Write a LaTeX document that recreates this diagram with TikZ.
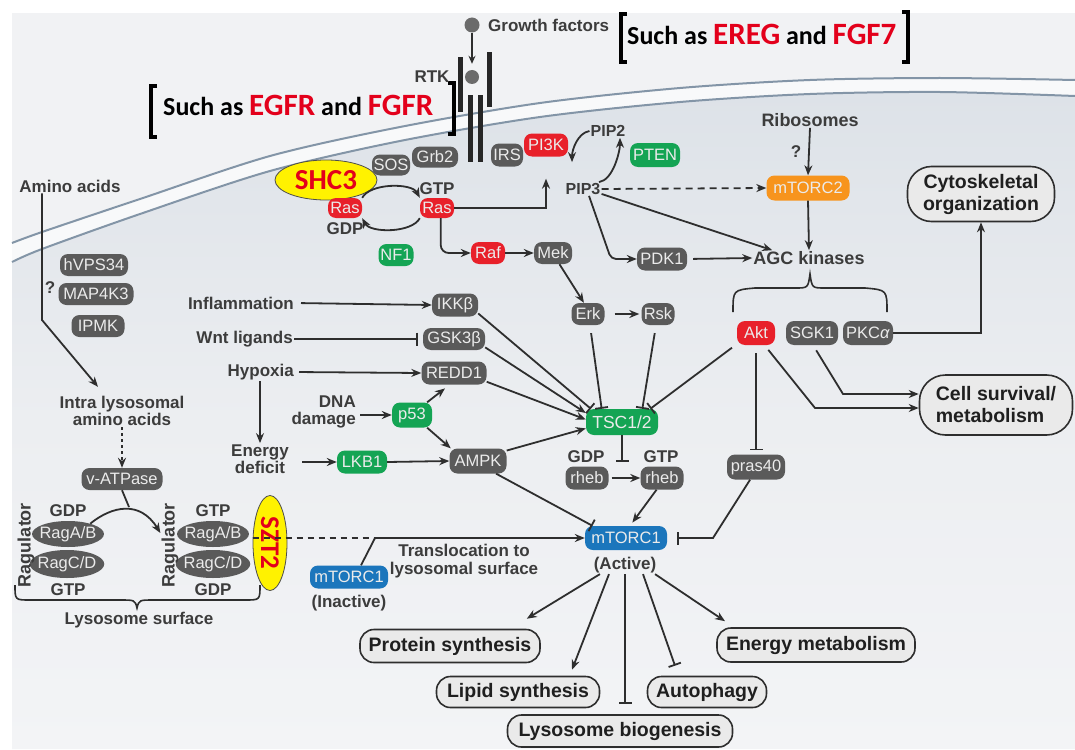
\documentclass[tikz,border=0pt]{standalone}
\usepackage{fontspec}
\setmainfont{Liberation Sans}
\newfontfamily\calib{Carlito}
\usetikzlibrary{arrows.meta,shapes.geometric,calc}
\definecolor{bgout}{HTML}{F1F2F4}
\definecolor{bgin}{HTML}{DDE2E8}
\definecolor{bgmid}{HTML}{ECEEF1}
\definecolor{bglow}{HTML}{F3F4F6}
\definecolor{bgband}{HTML}{F8F9FA}
\definecolor{memb}{HTML}{8395A7}
\definecolor{ndgray}{HTML}{5A5A5A}
\definecolor{nred}{HTML}{E8202A}
\definecolor{ngreen}{HTML}{14A454}
\definecolor{norange}{HTML}{F7941D}
\definecolor{nblue}{HTML}{1B76BC}
\definecolor{txt}{HTML}{3C3C3C}
\definecolor{boxfill}{HTML}{EAEAEA}
\definecolor{shcyel}{HTML}{FFF200}
\definecolor{anred}{HTML}{E3001B}
\definecolor{lnc}{HTML}{2E2E2E}
\begin{document}
\begin{tikzpicture}[x=1pt,y=-1pt,
  lbl/.style={text=txt, inner sep=1pt, font=\fontsize{17}{17.5}\selectfont\bfseries, align=center},
  molnode/.style={rounded corners=8pt, minimum height=22pt, inner sep=0pt, text=white!92!black, font=\fontsize{16.5}{18}\selectfont},
  gnode/.style={molnode, fill=ndgray},
  rnode/.style={molnode, fill=nred},
  grnode/.style={molnode, fill=ngreen},
  onode/.style={molnode, fill=norange},
  bnode/.style={molnode, fill=nblue},
  outbox/.style={draw=lnc, line width=1.6pt, fill=boxfill, rounded corners=14pt, inner sep=0pt, text=black!88, font=\fontsize{19.5}{22}\selectfont\bfseries},
  rag/.style={ellipse, fill=ndgray, text=white!92!black, inner xsep=-3pt, inner ysep=1pt, font=\fontsize{16.5}{18}\selectfont},
  conn/.style={line width=1.8pt, draw=lnc},
  arr/.style={conn, -{Stealth[length=10pt,width=8pt]}},
  inh/.style={conn, -{Bar[width=13pt]}},
  ann/.style={font=\calib\bfseries\fontsize{26}{30}\selectfont, inner sep=0pt, text=black},
  yel/.style={ellipse, draw=black!70, line width=0.8pt, fill=shcyel, inner sep=0pt, text=anred, font=\calib\bfseries\fontsize{29}{32}\selectfont}
]
\useasboundingbox (0,0) rectangle (1075,749);
% ---------- background ----------
\fill[white] (0,0) rectangle (1075,749);
\fill[bgout] (12,13) rectangle (1075,749);
\shade[top color=bgin, bottom color=bglow, middle color=bgmid]
  plot[smooth] coordinates {(12,262) (42,249) (140,214) (270,171) (400,141) (540,117) (680,102) (810,94) (940,92) (1075,96)}
  -- (1075,749) -- (12,749) -- cycle;
\fill[bgband]
  plot[smooth] coordinates {(12,243) (42,232) (140,199) (270,156) (400,127) (540,103) (680,88) (810,80) (940,78) (1075,80)}
  -- plot[smooth] coordinates {(1075,96) (940,92) (810,94) (680,102) (540,117) (400,141) (270,171) (140,214) (42,249) (12,262)} -- cycle;
\draw[memb, line width=2pt] plot[smooth] coordinates {(12,243) (42,232) (140,199) (270,156) (400,127) (540,103) (680,88) (810,80) (940,78) (1075,80)};
\draw[memb, line width=2pt] plot[smooth] coordinates {(12,262) (42,249) (140,214) (270,171) (400,141) (540,117) (680,102) (810,94) (940,92) (1075,96)};

% ---------- annotations ----------
\draw[line width=4pt] (627,14) -- (621,14) -- (621,62) -- (627,62);
\node[ann, anchor=base west] (annA) at (627,45) {Such as {\color{anred}\fontsize{31}{34}\selectfont EREG} and {\color{anred}\fontsize{31}{34}\selectfont FGF7}};
\draw[line width=4pt] (902,12) -- (908,12) -- (908,62) -- (902,62);
\draw[line width=4pt] (157,86) -- (151,86) -- (151,137) -- (157,137);
\node[ann, anchor=base west] (annB) at (163,115) {Such as {\color{anred}\fontsize{31}{34}\selectfont EGFR} and {\color{anred}\fontsize{31}{34}\selectfont FGFR}};
\draw[line width=4pt] (448,83) -- (454,83) -- (454,134) -- (448,134);

% ---------- receptor ----------
\node[circle, fill=black!58, minimum size=15pt, inner sep=0pt] (gfball) at (472,25) {};
\node[lbl, anchor=west] (gf) at (487,25) {Growth factors};
\fill[black!85] (458,57) rectangle (463,112);
\fill[black!85] (487,52) rectangle (492,107);
\fill[black!85] (468,95) rectangle (473,162);
\fill[black!85] (478,95) rectangle (483,162);
\node[circle, fill=black!58, minimum size=14pt, inner sep=0pt] (rtkball) at (472,77) {};
\draw[conn, -{Stealth[length=8pt,width=7pt]}, shorten >=6pt] (gfball.south) -- (rtkball.north);
\node[lbl] (rtk) at (432,77) {RTK};

% ---------- molecule nodes ----------
\node[gnode, minimum width=38pt, minimum height=21pt] (sos) at (391,165) {SOS};
\node[gnode, minimum width=46pt, minimum height=21pt] (grb2) at (435,157) {Grb2};
\node[gnode, minimum width=32pt, minimum height=23pt] (irs) at (507,155) {IRS};
\node[rnode, minimum width=44pt, minimum height=23pt] (pi3k) at (546,145) {PI3K};
\node[grnode, minimum width=50pt, minimum height=24pt] (pten) at (655,155) {PTEN};
\node[onode, minimum width=83pt, minimum height=25pt] (mtorc2) at (808,188) {mTORC2};
\node[yel, minimum width=102pt, minimum height=40pt] (shc3) at (326,180) {SHC3};
\node[rnode, minimum width=34pt, minimum height=20pt] (rasL) at (345,208) {Ras};
\node[rnode, minimum width=34pt, minimum height=20pt] (rasR) at (437,208) {Ras};
\node[grnode, minimum width=35pt, minimum height=22pt] (nf1) at (396,255) {NF1};
\node[rnode, minimum width=34pt, minimum height=22pt] (raf) at (488,253) {Raf};
\node[gnode, minimum width=38pt, minimum height=22pt] (mek) at (553,253) {Mek};
\node[gnode, minimum width=50pt, minimum height=23pt] (pdk1) at (662,259) {PDK1};
\node[gnode, minimum width=33pt, minimum height=22pt] (erk) at (588,314) {Erk};
\node[gnode, minimum width=33pt, minimum height=22pt] (rsk) at (658,314) {Rsk};
\node[rnode, minimum width=38pt, minimum height=24pt] (akt) at (756,333) {Akt};
\node[gnode, minimum width=52pt, minimum height=24pt] (sgk) at (812,333) {SGK1};
\node[gnode, minimum width=50pt, minimum height=24pt] (pkc) at (868,333) {PKC\textit{α}};
\node[grnode, minimum width=72pt, minimum height=26pt, font=\fontsize{17.5}{19}\selectfont] (tsc) at (622,422) {TSC1/2};
\node[gnode, minimum width=43pt, minimum height=23pt] (rhebD) at (587,478) {rheb};
\node[gnode, minimum width=43pt, minimum height=23pt] (rhebT) at (662,478) {rheb};
\node[gnode, minimum width=58pt, minimum height=25pt] (pras) at (756,467) {pras40};
\node[bnode, minimum width=82pt, minimum height=24pt] (mtorc1a) at (626,538) {mTORC1};
\node[bnode, minimum width=78pt, minimum height=23pt] (mtorc1i) at (349,577) {mTORC1};
\node[gnode, minimum width=46pt, minimum height=23pt] (ikk) at (455,305) {IKKβ};
\node[gnode, minimum width=62pt, minimum height=22pt] (gsk) at (454,339) {GSK3β};
\node[gnode, minimum width=65pt, minimum height=23pt] (redd) at (454,373) {REDD1};
\node[grnode, minimum width=40pt, minimum height=25pt] (p53) at (412,415) {p53};
\node[grnode, minimum width=50pt, minimum height=23pt] (lkb1) at (362,462) {LKB1};
\node[gnode, minimum width=57pt, minimum height=25pt] (ampk) at (478,461) {AMPK};
\node[gnode, minimum width=68pt, minimum height=22pt] (hvps) at (94,265) {hVPS34};
\node[gnode, minimum width=75pt, minimum height=22pt] (map4k3) at (96,294) {MAP4K3};
\node[gnode, minimum width=53pt, minimum height=22pt] (ipmk) at (98,326) {IPMK};
\node[gnode, minimum width=81pt, minimum height=22pt] (vatp) at (122,479) {v-ATPase};
\node[rag, minimum width=70pt, minimum height=26pt] (ragab1) at (68,534) {RagA/B};
\node[rag, minimum width=66pt, minimum height=28pt] (ragcd1) at (67,564) {RagC/D};
\node[rag, minimum width=70pt, minimum height=26pt] (ragab2) at (213,534) {RagA/B};
\node[rag, minimum width=66pt, minimum height=28pt] (ragcd2) at (213,564) {RagC/D};
\node[yel, rotate=-90, minimum width=95pt, minimum height=34pt, font=\calib\bfseries\fontsize{27}{30}\selectfont] (szt2) at (270,543) {SZT2};

% ---------- labels ----------
\node[lbl] (amino) at (70,186) {Amino acids};
\node[lbl] (q1) at (50,288) {?};
\node[lbl] (intra) at (122,411) {Intra lysosomal\\amino acids};
\node[lbl, font=\fontsize{18}{20}\selectfont\bfseries] (ribo) at (810,120) {Ribosomes};
\node[lbl] (q2) at (796,152) {?};
\node[lbl, font=\fontsize{16}{18}\selectfont\bfseries] (pip2) at (608,131) {PIP2};
\node[lbl, font=\fontsize{16}{18}\selectfont\bfseries] (pip3) at (583,189) {PIP3};
\node[lbl] (gtp1) at (437,189) {GTP};
\node[lbl] (gdp1) at (345,229) {GDP};
\node[lbl, font=\fontsize{18}{20}\selectfont\bfseries] (agc) at (809,258) {AGC kinases};
\node[lbl, anchor=east] (infl) at (295,303) {Inflammation};
\node[lbl, anchor=east] (wnt) at (294,339) {Wnt ligands};
\node[lbl, anchor=east] (hyp) at (295,372) {Hypoxia};
\node[lbl] (energy) at (260,459) {Energy\\deficit};
\node[lbl, align=right, anchor=east] (dna) at (357,412) {DNA\\damage};
\node[lbl] (gdp2) at (586,457) {GDP};
\node[lbl] (gtp2) at (661,457) {GTP};
\node[lbl] (transl) at (464,561) {Translocation to\\lysosomal surface};
\node[lbl] (inact) at (349,603) {(Inactive)};
\node[lbl] (act) at (625,565) {(Active)};
\node[lbl, rotate=90, font=\fontsize{18}{20}\selectfont\bfseries] (ragu1) at (26,545) {Ragulator};
\node[lbl, rotate=90, font=\fontsize{18}{20}\selectfont\bfseries] (ragu2) at (170,545) {Ragulator};
\node[lbl] (gdp3) at (68,511) {GDP};
\node[lbl] (gtp3) at (68,590) {GTP};
\node[lbl] (gtp4) at (213,511) {GTP};
\node[lbl] (gdp4) at (213,590) {GDP};
\node[lbl] (lyss) at (139,620) {Lysosome surface};

% ---------- output boxes ----------
\node[outbox, minimum width=147pt, minimum height=55pt, rounded corners=24pt, align=center] (cyto) at (981,194) {Cytoskeletal\\organization};
\node[outbox, minimum width=153pt, minimum height=60pt, rounded corners=26pt, align=left] (cell) at (996,405) {Cell survival/\\metabolism};
\node[outbox, minimum width=180pt, minimum height=33pt] (prot) at (450,646) {Protein synthesis};
\node[outbox, minimum width=163pt, minimum height=31pt] (lipid) at (518,692) {Lipid synthesis};
\node[outbox, minimum width=225pt, minimum height=32pt] (lyso) at (620,731) {Lysosome biogenesis};
\node[outbox, minimum width=119pt, minimum height=31pt] (auto) at (707,692) {Autophagy};
\node[outbox, minimum width=198pt, minimum height=34pt] (emet) at (816,645) {Energy metabolism};

% ---------- braces ----------
\draw[conn, line width=1.6pt] (733,312) .. controls (733,290) .. (755,288) -- (795,288) .. controls (808,288) .. (810,274) .. controls (812,288) .. (825,288) -- (865,288) .. controls (887,290) .. (887,312);
\draw[conn, line width=1.6pt] (15,585) .. controls (15,600) .. (30,600) -- (120,600) .. controls (135,600) .. (137,608) .. controls (139,600) .. (154,600) -- (245,600) .. controls (260,600) .. (260,585);

% ---------- connectors ----------
% Ras cycle
\draw[arr] (rasL.north east) .. controls +(8,-15) and +(-8,-15) .. (rasR.north west);
\draw[arr] (rasR.south west) .. controls +(-8,15) and +(8,15) .. (rasL.south east);
\draw[arr, shorten >=22pt] (rasR.east) -| (pi3k.south);
\draw[arr, rounded corners=8pt] (rasR.-70) |- (raf.west);
\draw[arr] (raf.east) -- (mek.west);
\draw[arr] (mek.-60) -- (erk.110);
\draw[arr, shorten <=10pt, shorten >=2pt] (erk.east) -- (rsk.west);
\draw[inh, shorten <=8pt] (erk.-80) -- (tsc.147);
\draw[inh, shorten <=8pt] (rsk.-100) -- (tsc.33);
% PIP
\draw[arr] (pip2.west) .. controls +(-12,2) and +(0,-12) .. ([xshift=-11pt,yshift=20pt]pip3.north);
\draw[arr] ([xshift=16pt]pip3.north) .. controls +(14,-2) and +(0,14) .. ([xshift=12pt]pip2.south);
\draw[arr, dashed, dash pattern=on 7pt off 5pt] (pip3.east) -- (mtorc2.west);
\draw[arr] (pip3.-15) -- (agc.168);
\coordinate (c4) at (611,259);
\draw[arr, rounded corners=5pt] ([xshift=6pt]pip3.south) -- (c4) -- (pdk1.west);
\draw[arr, shorten <=6pt] (pdk1.east) -- (agc.west);
\draw[arr] (ribo.south) -- (mtorc2.north);
\draw[arr] (mtorc2.south) -- (agc.north);
% AGC outputs
\draw[arr] (pkc.east) -| (cyto.south);
\coordinate (c1) at (815,408);
\draw[arr, shorten <=6pt] (akt.-55) -- (c1) -- (c1 -| cell.west);
\coordinate (c2) at (843,394);
\draw[arr, shorten <=6pt] (sgk.-85) -- (c2) -- (c2 -| cell.west);
\draw[inh, shorten <=6pt] (akt.210) -- (tsc.25);
\draw[inh, shorten <=8pt, shorten >=4pt] (akt.south) -- (pras.north);
\coordinate (p1) at (713,538);
\draw[inh, shorten >=10pt] (pras.-115) -- (p1) -- (p1 -| mtorc1a.east);
% stress inputs
\draw[arr, shorten <=6pt] (infl.east) -- (ikk.west);
\draw[inh, shorten >=5pt] (wnt.east) -- (gsk.west);
\draw[arr, shorten <=4pt] (hyp.east) -- (redd.west);
\draw[arr] (energy.north |- hyp.south) -- (energy.north);
\draw[arr, shorten <=12pt] (energy.east |- lkb1.west) -- (lkb1.west);
\draw[arr, shorten <=3pt] (dna.east |- p53.west) -- (p53.west);
\draw[arr, shorten >=6pt] (p53.40) -- (redd.-110);
\draw[arr] (p53.-40) -- (ampk.155);
\draw[arr] (lkb1.east) -- (ampk.west);
\draw[inh] (ikk.-20) -- (tsc.157);
\draw[arr] (gsk.-15) -- (tsc.166);
\draw[arr] (redd.-15) -- (tsc.176);
\draw[arr] (ampk.20) -- (tsc.190);
\draw[inh] (ampk.-35) -- (mtorc1a.160);
% rheb
\coordinate (rr) at (622,462);
\draw[inh] (tsc.south) -- (rr);
\draw[arr, shorten <=3pt] (rhebD.east) -- (rhebT.west);
\draw[arr, shorten >=4pt] (rhebT.-115) -- ([xshift=4pt]mtorc1a.north);
% amino acids
\coordinate (a1) at (42,320);
\draw[arr] (amino.south -| a1) -- (a1) -- ([xshift=-24pt,yshift=8pt]intra.north);
\draw[arr, dash pattern=on 3pt off 3pt] (intra.south) -- (vatp.north);
\coordinate (apex) at (129,507);
\draw[conn] (vatp.south) -- (apex);
\draw[arr] (ragab1.25) .. controls (112,506) and (140,500) .. ([yshift=12pt]ragu2.north);
% lysosome translocation
\coordinate (t1) at (375,538);
\draw[conn, dash pattern=on 6pt off 5pt] (szt2.south |- t1) -- (t1);
\draw[arr] ([xshift=12pt]mtorc1i.north) -- (t1) -- (mtorc1a.west);
% mTORC1 outputs
\draw[arr] (act.200) -- ([xshift=-14pt,yshift=10pt]prot.north east);
\draw[arr] ([xshift=-16pt]act.south) -- ([xshift=54pt,yshift=6pt]lipid.north);
\draw[inh] (act.south) -- ([yshift=10pt]act.south |- lyso.north);
\draw[inh] ([xshift=18pt]act.south) -- ([xshift=-32pt,yshift=10pt]auto.north);
\draw[arr] ([xshift=30pt]act.south) -- ([xshift=-91pt,yshift=6pt]emet.north);
\end{tikzpicture}
\end{document}
